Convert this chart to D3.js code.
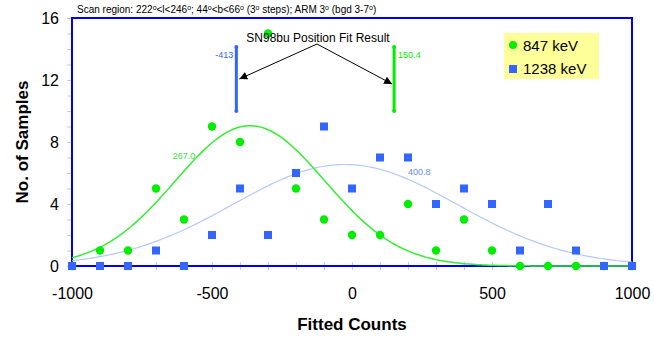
<!DOCTYPE html>
<html>
<head>
<meta charset="utf-8">
<script src="https://cdn.jsdelivr.net/npm/d3@7"></script>
<style>
  body { margin: 0; background: #fff; }
  text { font-family: "Liberation Sans", Arial, sans-serif; }
</style>
</head>
<body>
<div id="canvas"></div>
<script>
"use strict"

/* chart data */
let fittedCounts = [-1000, -900, -800, -700, -600, -500, -400, -300, -200, -100, 0,
                    100, 200, 300, 400, 500, 600, 700, 800, 900, 1000];
let samples847  = [0, 1, 1, 5, 3, 9, 8, 15, 5, 3, 2, 2, 4, 1, 3, 1, 0, 0, 0, 0, 0];
let samples1238 = [0, 0, 0, 1, 0, 2, 5, 2, 6, 9, 5, 7, 7, 4, 5, 4, 1, 4, 1, 0, 0];
let seriesNames = ["847 keV", "1238 keV"];

/* gaussian fits: [mean, amplitude, sigma] */
let fit847  = [-364, 9.05, 267.0];
let fit1238 = [-25, 6.55, 400.8];

/* position fit results */
let positionFit = [-413, 150.4];

let xTicks = [-1000, -500, 0, 500, 1000];
let yTicks = [0, 4, 8, 12, 16];

let green = "#00ee00";
let blue = "#3366ff";

let drawing = d3.select("#canvas")
    .append("svg")
    .attr("width", 654)
    .attr("height", 338);

let x = d3.scaleLinear().domain([-1000, 1000]).range([72, 632]);
let y = d3.scaleLinear().domain([0, 16]).range([266, 18]);

/* minor ticks */
let xMinor = d3.axisBottom(x).tickValues(fittedCounts).tickSize(8).tickFormat("");
drawing.append("g")
    .attr("transform", "translate(0,262)")
    .call(xMinor)
    .call(g => g.select(".domain").remove())
    .call(g => g.selectAll("line").attr("stroke", "#cccccc"));

let yMinor = d3.axisLeft(y).ticks(16).tickSize(5).tickFormat("");
drawing.append("g")
    .attr("transform", "translate(72,0)")
    .call(yMinor)
    .call(g => g.select(".domain").remove())
    .call(g => g.selectAll("line").attr("stroke", "#cccccc"));

/* tick labels */
let xAxis = d3.axisBottom(x).tickValues(xTicks).tickSize(0).tickPadding(22)
    .tickFormat(d => String(d));
drawing.append("g")
    .attr("transform", "translate(0,266)")
    .call(xAxis)
    .call(g => g.select(".domain").remove())
    .call(g => g.selectAll("text")
        .attr("font-size", 16).attr("fill", "#000")
        .attr("font-family", "Liberation Sans, Arial, sans-serif"));

let yAxis = d3.axisLeft(y).tickValues(yTicks).tickSize(0).tickPadding(13)
    .tickFormat(d => String(d));
drawing.append("g")
    .attr("transform", "translate(72,0)")
    .call(yAxis)
    .call(g => g.select(".domain").remove())
    .call(g => g.selectAll("text")
        .attr("font-size", 16).attr("fill", "#000")
        .attr("font-family", "Liberation Sans, Arial, sans-serif"));

/* plot frame */
let frame = drawing.append("rect")
    .attr("x", x(-1000)).attr("y", y(16))
    .attr("width", x(1000) - x(-1000))
    .attr("height", y(0) - y(16))
    .attr("fill", "none")
    .attr("stroke", "#0000ee")
    .attr("stroke-width", 2);

/* fitted curves */
let curveX = d3.range(-1000, 1001, 10);
function gauss(p) {
    return v => p[1] * Math.exp(-((v - p[0]) ** 2) / (2 * p[2] * p[2]));
}
let line = d3.line().x(d => x(d[0])).y(d => y(d[1]));

drawing.append("path")
    .datum(curveX.map(v => [v, gauss(fit1238)(v)]))
    .attr("d", line)
    .attr("fill", "none")
    .attr("stroke", "#b4c8ff")
    .attr("stroke-width", 1.2);

drawing.append("path")
    .datum(curveX.map(v => [v, gauss(fit847)(v)]))
    .attr("d", line)
    .attr("fill", "none")
    .attr("stroke", "#33ee33")
    .attr("stroke-width", 1.5);

drawing.append("text")
    .attr("x", x(-600)).attr("y", y(6.9))
    .attr("text-anchor", "middle")
    .attr("font-size", 9)
    .attr("fill", "#44dd44")
    .text(fit847[2].toFixed(1));

drawing.append("text")
    .attr("x", x(200)).attr("y", y(5.9))
    .attr("font-size", 9)
    .attr("fill", "#6688ee")
    .text(fit1238[2].toFixed(1));

/* points */
drawing.append("g").selectAll("circle")
    .data(fittedCounts)
    .join("circle")
    .attr("cx", (d, i) => x(d))
    .attr("cy", (d, i) => y(samples847[i]))
    .attr("r", 4.2)
    .attr("fill", green);

drawing.append("g").selectAll("rect")
    .data(fittedCounts)
    .join("rect")
    .attr("x", (d, i) => x(d) - 4)
    .attr("y", (d, i) => y(samples1238[i]) - 4)
    .attr("width", 8)
    .attr("height", 8)
    .attr("fill", blue);

/* position fit markers */
let defs = drawing.append("defs");
defs.append("marker")
    .attr("id", "tri")
    .attr("viewBox", "0 0 10 10")
    .attr("refX", 10).attr("refY", 5)
    .attr("markerWidth", 8).attr("markerHeight", 8)
    .attr("markerUnits", "userSpaceOnUse")
    .attr("orient", "auto")
    .append("path")
    .attr("d", "M0,0 L10,5 L0,10 Z")
    .attr("fill", "#000");

let markerColors = [blue, green];
let markerAnchor = ["end", "start"];
let markerDx = [-3, 4];
positionFit.forEach((p, i) => {
    drawing.append("line")
        .attr("x1", x(p)).attr("x2", x(p))
        .attr("y1", 47).attr("y2", 111)
        .attr("stroke", markerColors[i])
        .attr("stroke-width", 3);
    [47, 111].forEach(yy => {
        drawing.append("circle")
            .attr("cx", x(p)).attr("cy", yy).attr("r", 2)
            .attr("fill", markerColors[i]);
    });
    drawing.append("text")
        .attr("x", x(p) + markerDx[i]).attr("y", 58)
        .attr("text-anchor", markerAnchor[i])
        .attr("font-size", 9)
        .attr("fill", markerColors[i])
        .text(p);
});

drawing.append("text")
    .attr("x", 318).attr("y", 42)
    .attr("text-anchor", "middle")
    .attr("font-size", 12)
    .attr("fill", "#000")
    .text("SN98bu Position Fit Result");

drawing.append("line")
    .attr("x1", 317).attr("y1", 44)
    .attr("x2", x(positionFit[0]) + 3).attr("y2", 79)
    .attr("stroke", "#000").attr("stroke-width", 1)
    .attr("marker-end", "url(#tri)");
drawing.append("line")
    .attr("x1", 317).attr("y1", 44)
    .attr("x2", x(positionFit[1]) - 2).attr("y2", 84)
    .attr("stroke", "#000").attr("stroke-width", 1)
    .attr("marker-end", "url(#tri)");

/* scan region note */
let note = drawing.append("text")
    .attr("x", 77).attr("y", 13)
    .attr("font-size", 10)
    .attr("fill", "#000");
let noteParts = ["Scan region: 222", "<l<246", "; 44", "<b<66", " (3", " steps); ARM 3", " (bgd 3-7", ")"];
noteParts.forEach((t, i) => {
    note.append("tspan").attr("dy", i === 0 ? 0 : 3).text(t);
    if (i < noteParts.length - 1) {
        note.append("tspan").attr("dy", -3).attr("font-size", 7).text("o");
    }
});

/* legend */
drawing.append("rect")
    .attr("x", 504).attr("y", 33)
    .attr("width", 95).attr("height", 46)
    .attr("fill", "#ffff99");
drawing.append("circle")
    .attr("cx", 513).attr("cy", 45).attr("r", 4)
    .attr("fill", green);
drawing.append("rect")
    .attr("x", 509).attr("y", 65).attr("width", 8).attr("height", 8)
    .attr("fill", blue);
seriesNames.forEach((s, i) => {
    drawing.append("text")
        .attr("x", 523).attr("y", 51 + i * 23)
        .attr("font-size", 15)
        .attr("fill", "#000")
        .text(s);
});

/* axis titles */
drawing.append("text")
    .attr("x", 352).attr("y", 330)
    .attr("text-anchor", "middle")
    .attr("font-size", 17)
    .attr("font-weight", "bold")
    .attr("fill", "#000")
    .text("Fitted Counts");

drawing.append("text")
    .attr("transform", "translate(28,142) rotate(-90)")
    .attr("text-anchor", "middle")
    .attr("font-size", 17)
    .attr("font-weight", "bold")
    .attr("fill", "#000")
    .text("No. of Samples");
</script>
</body>
</html>
